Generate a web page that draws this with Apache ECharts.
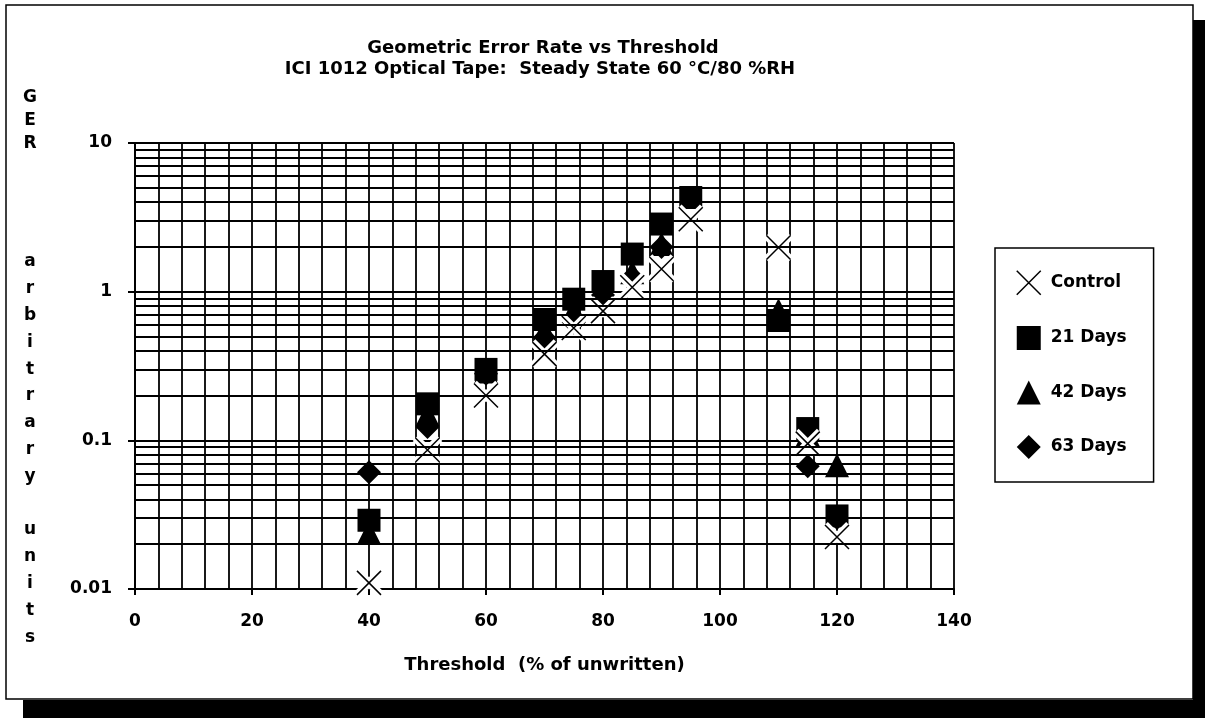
<!DOCTYPE html>
<html><head><meta charset="utf-8">
<script src="https://cdn.jsdelivr.net/npm/echarts@6/dist/echarts.min.js"></script>
<style>html,body{margin:0;padding:0;background:#fff}#c{width:1211px;height:719px}</style>
</head><body><div id="c"></div>
<script>
// ---- data ----
const thresholds = [40, 50, 60, 70, 75, 80, 85, 90, 95, 110, 115, 120];
const control    = [0.011, 0.086, 0.20, 0.38, 0.57, 0.74, 1.07, 1.42, 3.07, 1.98, 0.095, 0.0224];
const days21     = [0.029, 0.176, 0.30, 0.65, 0.89, 1.17, 1.79, 2.85, 4.3, 0.64, 0.12, 0.031];
const days42X    = [40, 50, 60, 70, 75, 80, 85, 90, 110, 115, 120];
const days42     = [0.024, 0.15, 0.29, 0.55, 0.75, 1.0, 1.35, 2.09, 0.75, 0.11, 0.068];
const days63X    = [40, 50, 60, 70, 75, 80, 85, 90, 115, 120];
const days63     = [0.061, 0.123, 0.28, 0.49, 0.62, 0.95, 1.25, 2.0, 0.067, 0.03];
const yTickLabels = ['0.01', '0.1', '1', '10'];
const seriesNames = ['Control', '21 Days', '42 Days', '63 Days'];
const titleLines = ['Geometric Error Rate vs Threshold', 'ICI 1012 Optical Tape:  Steady State 60 \u00B0C/80 %RH'];
const xTitle = 'Threshold  (% of unwritten)';
const yTitleTop = ['G', 'E', 'R'];
const yTitleBottom = ['a', 'r', 'b', 'i', 't', 'r', 'a', 'r', 'y', ' ', 'u', 'n', 'i', 't', 's'];
const decades = [0.01, 0.1, 1];
const decadeSteps = [2, 3, 4, 5, 6, 7, 8, 9];

const pair = (xs, ys) => xs.map((x, i) => [x, ys[i]]);
const FONT = '"DejaVu Sans", "Liberation Sans", Arial, sans-serif';
const XPATH = 'path://M0,0L24,24M24,0L0,24';
const minorY = [];
decades.forEach(d => decadeSteps.forEach(s => minorY.push({ yAxis: +(d * s).toPrecision(2) })));

const chart = echarts.init(document.getElementById('c'), null, { renderer: 'canvas' });
const gridLine = { color: '#000', width: 1.8 };

chart.setOption({
  animation: false,
  backgroundColor: '#fff',
  grid: { left: 135, right: 257, top: 143, bottom: 130 },
  xAxis: {
    type: 'value', min: 0, max: 140, interval: 20,
    name: xTitle, nameLocation: 'middle', nameGap: 67,
    nameTextStyle: { fontFamily: FONT, fontWeight: 'bold', fontSize: 18, color: '#000' },
    axisLine: { lineStyle: { color: '#000', width: 2 } },
    axisTick: { show: true, length: 6, lineStyle: { color: '#000', width: 2 } },
    minorTick: { show: false, splitNumber: 5 },
    splitLine: { show: true, lineStyle: gridLine },
    minorSplitLine: { show: true, lineStyle: gridLine },
    axisLabel: { fontFamily: FONT, fontWeight: 'bold', fontSize: 17, color: '#000', margin: 24 }
  },
  yAxis: {
    type: 'log', logBase: 10, min: 0.01, max: 10,
    axisLine: { show: true, lineStyle: { color: '#000', width: 2 } },
    axisTick: { show: true, length: 7, lineStyle: { color: '#000', width: 2 } },
    splitLine: { show: true, lineStyle: gridLine },
    axisLabel: {
      fontFamily: FONT, fontWeight: 'bold', fontSize: 17, color: '#000', margin: 23,
      formatter: v => yTickLabels.find(t => Math.abs(Math.log10(+t) - Math.log10(v)) < 1e-6) || ''
    }
  },
  legend: {
    orient: 'vertical', left: 995, top: 248,
    padding: [22, 27, 23, 21],
    itemWidth: 24, itemHeight: 24, itemGap: 30.5,
    borderColor: '#000', borderWidth: 1.5,
    textStyle: { fontFamily: FONT, fontWeight: 'bold', fontSize: 17, color: '#000', padding: [0, 0, 0, 5] },
    data: [
      { name: seriesNames[0], icon: XPATH, itemStyle: { color: 'transparent', borderColor: '#000', borderWidth: 1.5 } },
      { name: seriesNames[1], icon: 'rect' },
      { name: seriesNames[2], icon: 'triangle' },
      { name: seriesNames[3], icon: 'diamond' }
    ]
  },
  series: [
    {
      name: 'gridMinor', type: 'scatter', data: [], z: 1, silent: true,
      markLine: { silent: true, symbol: 'none', label: { show: false }, lineStyle: { color: '#000', width: 1.8, type: 'solid' }, data: minorY, animation: false }
    },
    { name: seriesNames[2], type: 'scatter', z: 3, symbol: 'triangle', symbolSize: 24, itemStyle: { color: '#000', opacity: 1 }, data: pair(days42X, days42) },
    { name: seriesNames[3], type: 'scatter', z: 3, symbol: 'diamond', symbolSize: 24, itemStyle: { color: '#000', opacity: 1 }, data: pair(days63X, days63) },
    { name: seriesNames[1], type: 'scatter', z: 3, symbol: 'rect', symbolSize: 23, itemStyle: { color: '#000', opacity: 1 }, data: pair(thresholds, days21) },
    { name: 'controlHalo', type: 'scatter', z: 4, silent: true, symbol: XPATH, symbolSize: 24, itemStyle: { color: 'transparent', borderColor: '#fff', borderWidth: 8, opacity: 1 }, data: pair(thresholds, control) },
    { name: seriesNames[0], type: 'scatter', z: 5, symbol: XPATH, symbolSize: 24, itemStyle: { color: 'transparent', borderColor: '#000', borderWidth: 1.5, opacity: 1 }, data: pair(thresholds, control) }
  ],
  graphic: [
    { type: 'rect', z: 0, shape: { x: 1193, y: 20, width: 12, height: 698 }, style: { fill: '#000' } },
    { type: 'rect', z: 0, shape: { x: 23, y: 700, width: 1182, height: 18 }, style: { fill: '#000' } },
    { type: 'rect', z: 0, shape: { x: 6, y: 5, width: 1187, height: 694 }, style: { fill: 'none', stroke: '#000', lineWidth: 1.5 } },
    { type: 'text', x: 543, y: 48, style: { text: titleLines[0], font: 'bold 18px ' + FONT, fill: '#000', textAlign: 'center', textVerticalAlign: 'middle' } },
    { type: 'text', x: 540, y: 69, style: { text: titleLines[1], font: 'bold 18px ' + FONT, fill: '#000', textAlign: 'center', textVerticalAlign: 'middle' } },
    { type: 'text', x: 30, y: 86.5, style: { text: yTitleTop.join('\n'), font: 'bold 17px ' + FONT, lineHeight: 23, fill: '#000', textAlign: 'center', textVerticalAlign: 'top' } },
    { type: 'text', x: 30, y: 248.6, style: { text: yTitleBottom.join('\n'), font: 'bold 17px ' + FONT, lineHeight: 26.8, fill: '#000', textAlign: 'center', textVerticalAlign: 'top' } }
  ]
});
</script></body></html>
